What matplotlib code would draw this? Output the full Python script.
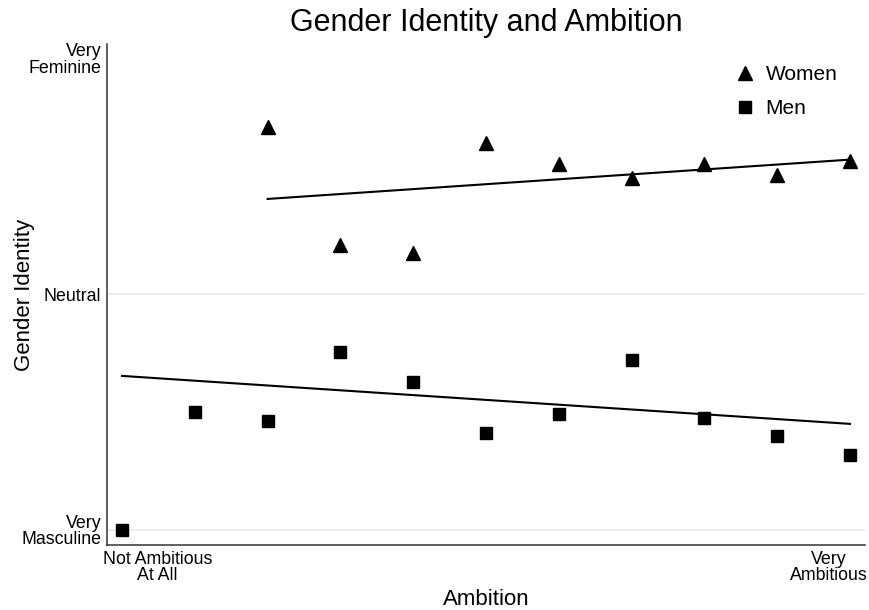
import numpy as np
import matplotlib.pyplot as plt
from matplotlib.transforms import ScaledTranslation

plt.rcParams['font.family'] = ['Liberation Sans', 'DejaVu Sans']

# ambition scale 0..10, gender identity 1 (very masculine) .. 7 (very feminine)
women_ambition = [2, 3, 4, 5, 6, 7, 8, 9, 10]
women_identity = [6.12, 4.62, 4.52, 5.92, 5.65, 5.47, 5.65, 5.51, 5.69]
men_ambition = [0, 1, 2, 3, 4, 5, 6, 7, 8, 9, 10]
men_identity = [1.00, 2.50, 2.39, 3.27, 2.88, 2.24, 2.47, 3.16, 2.43, 2.19, 1.96]

# fitted trend lines (end points)
women_fit_x = [2, 10]
women_fit_y = [5.21, 5.71]
men_fit_x = [0, 10]
men_fit_y = [2.96, 2.35]

x_ticks = [0, 10]
x_ticklabels = ["Not Ambitious\nAt All", "Very\nAmbitious"]
y_ticks = [1, 4, 7]
y_ticklabels = ["Very\nMasculine", "Neutral", "Very\nFeminine"]
grid_levels = [1, 4]

fig = plt.figure(figsize=(8.69, 6.10), dpi=100)
ax = fig.add_axes([107/869, 1 - 545/610, 758/869, 501/610])

for g in grid_levels:
    ax.axhline(g, color="#ececec", lw=1.3, zorder=0)

ax.plot(women_fit_x, women_fit_y, color="black", lw=1.5, zorder=2)
ax.plot(men_fit_x, men_fit_y, color="black", lw=1.5, zorder=2)
ax.plot(women_ambition, women_identity, ls="none", marker="^", ms=10,
        color="black", label="Women", zorder=3)
ax.plot(men_ambition, men_identity, ls="none", marker="s", ms=9,
        color="black", label="Men", zorder=3)

ax.set_xlim(-0.206, 10.206)
ax.set_ylim(0.81, 7.18)

ax.set_yticks(y_ticks, y_ticklabels, fontsize=12.8, multialignment="right",
              linespacing=0.95)
ax.set_xticks(x_ticks, x_ticklabels, fontsize=12.8, multialignment="center",
              linespacing=0.95)
ax.tick_params(length=0)
ax.tick_params(axis="y", pad=4)
ax.tick_params(axis="x", pad=4)

offs = [(-13.7, "left"), (13.0, "right")]
for lbl, (dx, ha) in zip(ax.get_xticklabels(), offs):
    lbl.set_ha(ha)
    lbl.set_transform(lbl.get_transform() + ScaledTranslation(dx/72, 0, fig.dpi_scale_trans))

for s in ["top", "right"]:
    ax.spines[s].set_visible(False)
for s in ["left", "bottom"]:
    ax.spines[s].set_color("#333333")
    ax.spines[s].set_linewidth(1.1)

ax.set_title("Gender Identity and Ambition", fontsize=22, pad=9)
ax.set_xlabel("Ambition", fontsize=16)
ax.set_ylabel("Gender Identity", fontsize=16)
ax.xaxis.set_label_coords(0.5, -0.088)
ax.yaxis.set_label_coords(-0.095, 0.5)

ax.legend(loc="upper left", bbox_to_anchor=(726/869, 1 - 57/610),
          bbox_transform=fig.transFigure, frameon=False, fontsize=15,
          borderaxespad=0, handlelength=1.0, handletextpad=0.5,
          labelspacing=0.72)

fig.savefig("out.png", dpi=100)
